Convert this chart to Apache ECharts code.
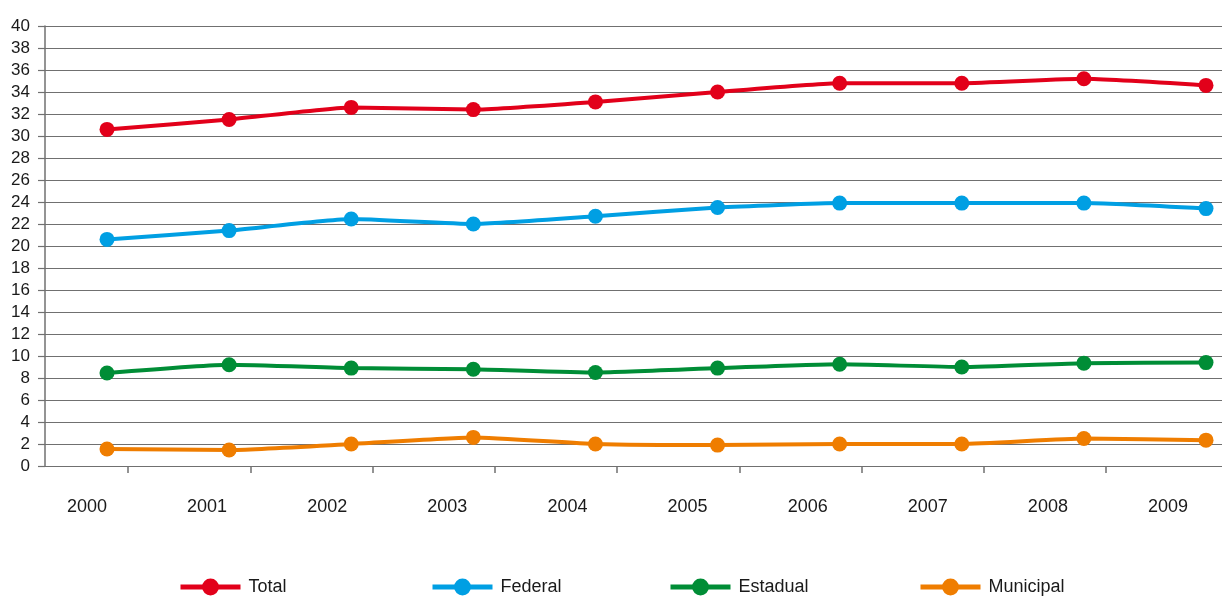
<!DOCTYPE html>
<html>
<head>
<meta charset="utf-8">
<script src="https://cdn.jsdelivr.net/npm/echarts@6/dist/echarts.min.js"></script>
<style>
  html, body { margin: 0; padding: 0; background: #fff; }
  #chart { width: 1223px; height: 597px; }
</style>
</head>
<body>
<div id="chart"></div>
<script>
const years = ['2000', '2001', '2002', '2003', '2004', '2005', '2006', '2007', '2008', '2009'];
const total = [30.6, 31.5, 32.6, 32.4, 33.1, 34.0, 34.8, 34.8, 35.2, 34.6];
const federal = [20.6, 21.4, 22.45, 22.0, 22.7, 23.5, 23.9, 23.9, 23.9, 23.4];
const estadual = [8.45, 9.2, 8.9, 8.8, 8.5, 8.9, 9.25, 9.0, 9.35, 9.4];
const municipal = [1.55, 1.45, 2.0, 2.6, 2.0, 1.9, 2.0, 2.0, 2.5, 2.35];
// tick marks sit between the years (9 of them)
const tickSlots = ['a', 'b', 'c', 'd', 'e', 'f', 'g', 'h', 'i'];

const font = '"Liberation Sans", Arial, sans-serif';
const gridGray = '#707070';

const chart = echarts.init(document.getElementById('chart'));

function lineSeries(name, data, color) {
  return {
    name: name,
    type: 'line',
    xAxisIndex: 1,
    yAxisIndex: 1,
    data: data,
    smooth: 0.15,
    symbol: 'circle',
    symbolSize: 15,
    lineStyle: { width: 4, color: color },
    itemStyle: { color: color },
    z: 5
  };
}

function legendAt(name, left) {
  return {
    data: [name],
    left: left,
    top: 573,
    itemWidth: 60,
    itemHeight: 21,
    itemGap: 0,
    lineStyle: { width: 5 },
    textStyle: { fontFamily: font, fontSize: 18, color: '#1a1a1a', padding: [0, 0, 0, 3] }
  };
}

const option = {
  backgroundColor: '#fff',
  animation: false,
  grid: [
    { left: 45, right: 1, top: 26, bottom: 131 },   // y axis + gridlines
    { left: 107, right: 17, top: 26, bottom: 131 }, // data points
    { left: 128, right: 117, top: 26, bottom: 131 },// tick marks
    { left: 87, right: 55, top: 26, bottom: 131 }   // year labels
  ],
  xAxis: [
    { gridIndex: 0, type: 'category', data: years, show: false },
    { gridIndex: 1, type: 'category', data: years, boundaryGap: false, show: false },
    {
      gridIndex: 2, type: 'category', data: tickSlots, boundaryGap: false,
      axisLine: { show: false },
      axisTick: { show: true, length: 7, lineStyle: { color: gridGray, width: 1.5 } },
      axisLabel: { show: false }
    },
    {
      gridIndex: 3, type: 'category', data: years, boundaryGap: false,
      axisLine: { show: false },
      axisTick: { show: false },
      axisLabel: { margin: 32, fontFamily: font, fontSize: 18, color: '#1a1a1a' }
    }
  ],
  yAxis: [
    {
      gridIndex: 0, type: 'value', min: 0, max: 40, interval: 2,
      axisLine: { show: true, lineStyle: { color: gridGray, width: 1.5 } },
      axisTick: { show: true, length: 7, lineStyle: { color: gridGray, width: 1.2 } },
      axisLabel: { margin: 15, fontFamily: font, fontSize: 17, color: '#1a1a1a' },
      splitLine: { show: true, lineStyle: { color: gridGray, width: 1.2 } }
    },
    { gridIndex: 1, type: 'value', min: 0, max: 40, interval: 2, show: false, splitLine: { show: false } },
    { gridIndex: 2, type: 'value', min: 0, max: 40, show: false, splitLine: { show: false } },
    { gridIndex: 3, type: 'value', min: 0, max: 40, show: false, splitLine: { show: false } }
  ],
  legend: [
    legendAt('Total', 173),
    legendAt('Federal', 425),
    legendAt('Estadual', 663),
    legendAt('Municipal', 913)
  ],
  series: [
    lineSeries('Total', total, '#e2001a'),
    lineSeries('Federal', federal, '#009fe3'),
    lineSeries('Estadual', estadual, '#008d36'),
    lineSeries('Municipal', municipal, '#ef7d00')
  ]
};

chart.setOption(option);
</script>
</body>
</html>
